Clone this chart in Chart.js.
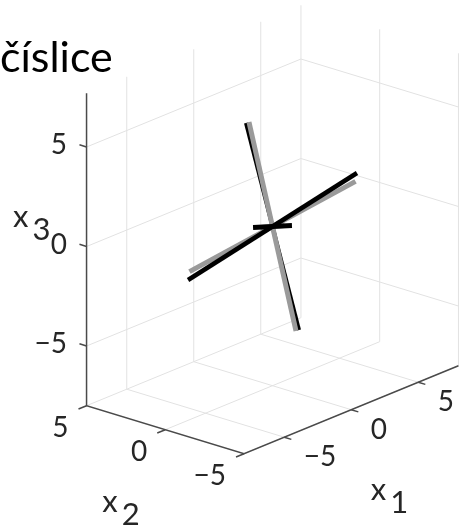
<!DOCTYPE html>
<html>
<head>
<meta charset="utf-8">
<script src="https://cdn.jsdelivr.net/npm/chart.js@4.4.0/dist/chart.umd.min.js"></script>
<style>
  html, body { margin: 0; padding: 0; background: #fff; }
  canvas { display: block; }
</style>
</head>
<body>
<canvas id="pcaChart" width="468" height="526"></canvas>
<script>
// Axis limits and tick values (data units)
const x1Lim = [-8, 8];
const x2Lim = [-5, 5];
const x3Lim = [-8, 7.7];
const x1Ticks = [-5, 0, 5];
const x2Ticks = [-5, 0, 5];
const x3Ticks = [-5, 0, 5];

// Component directions, each drawn from center - v to center + v
const center = [0, 0, 0];
const blackVecs = [
    [-1.39, 0.50, 5.46],
    [5.01, -1.10, 1.57],
    [2.45, 0.85, -0.83]
];
const grayVecs = [
    [-1.05, 0.60, 5.40],
    [5.02, -1.00, 1.12],
    [1.95, 0.90, -0.71]
];

const titleText = 'číslice';
const axisSubs = ['1', '2', '3'];

// Orthographic view: plane offset per unit of x1, x2, x3
const view = { ox: 272.5, oy: 226.5, e1: [13.4, -5.5], e2: [-15.75, -4.8], e3: [0, -19.9] };

function project(p) {
    return {
        x: view.ox + p[0] * view.e1[0] + p[1] * view.e2[0] + p[2] * view.e3[0],
        y: view.oy + p[0] * view.e1[1] + p[1] * view.e2[1] + p[2] * view.e3[1]
    };
}

// Turn a list of 3D segments into one broken polyline
function segmentsToPoints(segments) {
    const pts = [];
    segments.forEach(([a, b]) => {
        pts.push(project(a), project(b), { x: NaN, y: NaN });
    });
    return pts;
}

function vectorLine(v) {
    return [
        project([center[0] - v[0], center[1] - v[1], center[2] - v[2]]),
        project([center[0] + v[0], center[1] + v[1], center[2] + v[2]])
    ];
}

// Grid on the floor and the two back walls
const gridSegs = [];
const zMin = x3Lim[0], zMax = x3Lim[1];
x1Ticks.forEach(t => gridSegs.push([[t, x2Lim[0], zMin], [t, x2Lim[1], zMin]]));
x2Ticks.forEach(t => gridSegs.push([[x1Lim[0], t, zMin], [x1Lim[1], t, zMin]]));
x1Ticks.forEach(t => gridSegs.push([[t, x2Lim[1], zMin], [t, x2Lim[1], zMax]]));
x3Ticks.forEach(t => gridSegs.push([[x1Lim[0], x2Lim[1], t], [x1Lim[1], x2Lim[1], t]]));
x2Ticks.forEach(t => gridSegs.push([[x1Lim[1], t, zMin], [x1Lim[1], t, zMax]]));
x3Ticks.forEach(t => gridSegs.push([[x1Lim[1], x2Lim[0], t], [x1Lim[1], x2Lim[1], t]]));

// Axis lines: x3 up the left edge, then x2 and x1 along the front floor
const axisPath = [
    [x1Lim[0], x2Lim[1], zMax],
    [x1Lim[0], x2Lim[1], zMin],
    [x1Lim[0], x2Lim[0], zMin],
    [x1Lim[1], x2Lim[0], zMin]
].map(project);

// Tick marks
const tickSegs = [];
x3Ticks.forEach(t => tickSegs.push([[x1Lim[0], x2Lim[1], t], [x1Lim[0], x2Lim[1] + 0.45, t]]));
x2Ticks.forEach(t => tickSegs.push([[x1Lim[0], t, zMin], [x1Lim[0] - 0.6, t, zMin]]));
x1Ticks.forEach(t => tickSegs.push([[t, x2Lim[0], zMin], [t, x2Lim[0] - 0.45, zMin]]));

function fmtTick(t) {
    return t < 0 ? '\u2212' + Math.abs(t) : String(t);
}

const lineStyle = { showLine: true, pointRadius: 0, borderCapStyle: 'butt', spanGaps: false, fill: false };

const datasets = [
    { ...lineStyle, label: 'black 3', data: vectorLine(blackVecs[2]), borderColor: '#000', borderWidth: 5, order: 0 },
    { ...lineStyle, label: 'black 2', data: vectorLine(blackVecs[1]), borderColor: '#000', borderWidth: 4.5, order: 1 },
    { ...lineStyle, label: 'gray 1', data: vectorLine(grayVecs[0]), borderColor: '#9a9a9a', borderWidth: 5, order: 2 },
    { ...lineStyle, label: 'black 1', data: vectorLine(blackVecs[0]), borderColor: '#000', borderWidth: 4, order: 3 },
    { ...lineStyle, label: 'gray 2', data: vectorLine(grayVecs[1]), borderColor: '#9a9a9a', borderWidth: 5, order: 4 },
    { ...lineStyle, label: 'gray 3', data: vectorLine(grayVecs[2]), borderColor: '#9a9a9a', borderWidth: 5, order: 5 },
    { ...lineStyle, label: 'axes', data: axisPath, borderColor: '#4a4a4a', borderWidth: 1.5, order: 6 },
    { ...lineStyle, label: 'ticks', data: segmentsToPoints(tickSegs), borderColor: '#4a4a4a', borderWidth: 1.5, order: 6 },
    { ...lineStyle, label: 'grid', data: segmentsToPoints(gridSegs), borderColor: '#e2e2e2', borderWidth: 1, order: 7 }
];

// Title, tick labels and axis labels
const textPlugin = {
    id: 'axisText',
    afterDraw(chart) {
        const ctx = chart.ctx;
        const sx = chart.scales.x, sy = chart.scales.y;
        const px = p => {
            const q = project(p);
            return { x: sx.getPixelForValue(q.x), y: sy.getPixelForValue(q.y) };
        };
        ctx.save();
        ctx.textBaseline = 'alphabetic';

        ctx.fillStyle = '#000';
        ctx.font = '43px Lato';
        ctx.textAlign = 'left';
        ctx.fillText(titleText, 0, 72);

        ctx.fillStyle = '#262626';
        ctx.font = '28px Lato';
        ctx.textAlign = 'right';
        x3Ticks.forEach(t => {
            const p = px([x1Lim[0], x2Lim[1], t]);
            ctx.fillText(fmtTick(t), p.x - 19.5, p.y + 7);
        });
        x2Ticks.forEach(t => {
            const p = px([x1Lim[0], t, zMin]);
            ctx.fillText(fmtTick(t), p.x - 18, p.y + 31);
        });
        ctx.textAlign = 'left';
        x1Ticks.forEach(t => {
            const p = px([t, x2Lim[0], zMin]);
            ctx.fillText(fmtTick(t), p.x + 19.5, p.y + 29);
        });

        // x with subscript index
        ctx.font = '31px Lato';
        const drawName = (sub, x, y) => {
            ctx.fillText('x', x, y);
            ctx.fillText(sub, x + ctx.measureText('x').width + 4, y + 13);
        };
        const m1 = px([0, x2Lim[0], zMin]);
        const m2 = px([x1Lim[0], 0, zMin]);
        const m3 = px([x1Lim[0], x2Lim[1], (zMin + zMax) / 2]);
        drawName(axisSubs[0], m1.x + 19.5, m1.y + 90);
        drawName(axisSubs[1], m2.x - 63, m2.y + 82);
        drawName(axisSubs[2], m3.x - 73.5, m3.y - 22);
        ctx.restore();
    }
};

new Chart(document.getElementById('pcaChart'), {
    type: 'scatter',
    data: { datasets: datasets },
    options: {
        responsive: false,
        animation: false,
        devicePixelRatio: 1,
        events: [],
        layout: { padding: 0 },
        plugins: { legend: { display: false }, tooltip: { enabled: false } },
        scales: {
            x: { type: 'linear', min: 0, max: 468, display: false },
            y: { type: 'linear', min: 0, max: 526, reverse: true, display: false }
        }
    },
    plugins: [textPlugin]
});
</script>
</body>
</html>
